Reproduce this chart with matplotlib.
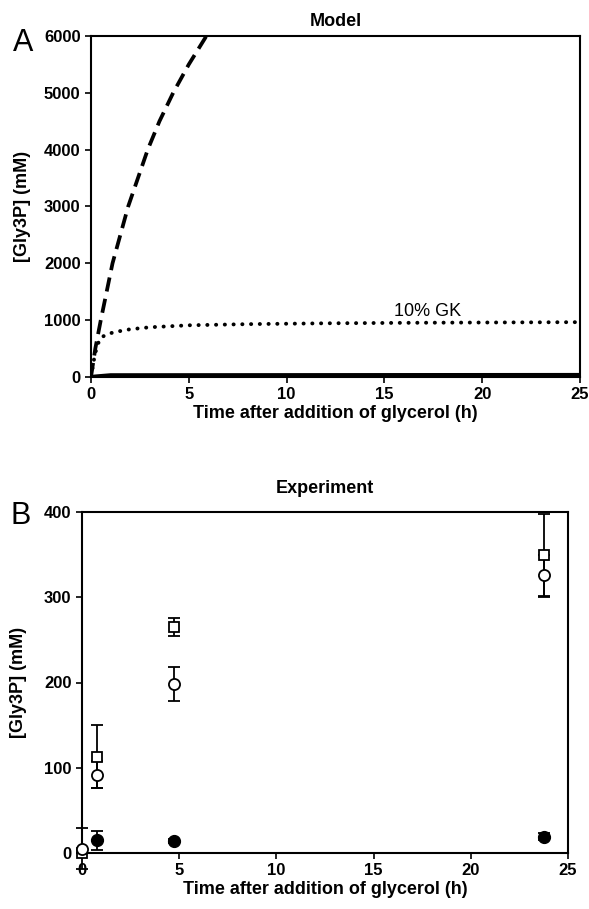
import matplotlib
matplotlib.use('Agg')
import matplotlib.pyplot as plt

plt.rcParams['font.family'] = ['Liberation Sans', 'DejaVu Sans']

# Model curves (panel A)
t_full = [0, 0.22, 0.5, 0.8, 1.1, 1.5, 1.9, 2.4, 2.9, 3.5, 4.2, 5.0, 5.9]
gly_full = [0, 500, 1000, 1500, 2000, 2500, 3000, 3500, 4000, 4500, 5000, 5500, 6000]
t_gk = [0, 0.1, 0.2, 0.35, 0.5, 0.8, 1.2, 2, 3, 5, 8, 12, 17, 25]
gly_gk = [0, 200, 400, 580, 690, 750, 790, 840, 875, 910, 930, 945, 955, 965]
t_wt = [0, 0.3, 1, 25]
gly_wt = [0, 10, 30, 35]

# Experiment (panel B)
t_sq = [0, 0.75, 4.75, 23.75]
sq = [0, 113, 265, 349]
sq_err = [0, 37, 11, 49]
t_oc = [0, 0.75, 4.75, 23.75]
oc = [5, 92, 198, 326]
oc_err = [24, 16, 20, 24]
t_fc = [0.75, 4.75, 23.75]
fc = [15, 14, 19]
fc_err = [11, 2, 4]

fig = plt.figure(figsize=(5.89, 9.09), dpi=100)
ax1 = fig.add_axes([91/589, 1-377/909, 489/589, 341/909])
ax2 = fig.add_axes([82/589, 1-853/909, 486/589, 341/909])

ax1.plot(t_full, gly_full, color='black', lw=2.7, linestyle=(0, (3.8, 2)))
ax1.plot(t_gk, gly_gk, color='black', lw=2.8, linestyle=(0, (0.05, 2.2)),
         dash_capstyle='round')
ax1.plot(t_wt, gly_wt, color='black', lw=3)
ax1.text(17.2, 1160, '10% GK', fontsize=13, ha='center', va='center')
ax1.set_xlim(0, 25)
ax1.set_ylim(0, 6000)
ax1.set_yticks([0, 1000, 2000, 3000, 4000, 5000, 6000])
ax1.set_title('Model', fontsize=13, fontweight='bold', pad=7)
ax1.set_xlabel('Time after addition of glycerol (h)', fontsize=13,
               fontweight='bold', labelpad=2)
ax1.set_ylabel('[Gly3P] (mM)', fontsize=13, fontweight='bold', labelpad=9)

ax2.errorbar(t_sq, sq, yerr=sq_err, fmt='s', mfc='white', mec='black',
             ms=7, mew=1.3, ecolor='black', elinewidth=1.3, capsize=4,
             capthick=1.3, clip_on=False, zorder=3)
ax2.errorbar(t_oc, oc, yerr=oc_err, fmt='o', mfc='white', mec='black',
             ms=8, mew=1.3, ecolor='black', elinewidth=1.3, capsize=4,
             capthick=1.3, clip_on=False, zorder=3)
ax2.errorbar(t_fc, fc, yerr=fc_err, fmt='o', mfc='black', mec='black',
             ms=8.5, ecolor='black', elinewidth=1.3, capsize=4,
             capthick=1.3, clip_on=False, zorder=3)
ax2.set_xlim(0, 25)
ax2.set_ylim(0, 400)
ax2.set_yticks([0, 100, 200, 300, 400])
ax2.set_title('Experiment', fontsize=13, fontweight='bold', pad=14)
ax2.set_xlabel('Time after addition of glycerol (h)', fontsize=13,
               fontweight='bold', labelpad=2)
ax2.set_ylabel('[Gly3P] (mM)', fontsize=13, fontweight='bold', labelpad=12)

for ax in (ax1, ax2):
    for s in ax.spines.values():
        s.set_linewidth(1.5)
    ax.set_xticks([0, 5, 10, 15, 20, 25])
    ax.tick_params(direction='out', length=4, width=1.2, labelsize=12,
                   top=False, right=False)
    for lab in ax.get_xticklabels() + ax.get_yticklabels():
        lab.set_fontweight('bold')

fig.text(23/589, 1-43/909, 'A', fontsize=22, ha='center', va='center')
fig.text(21/589, 1-516/909, 'B', fontsize=22, ha='center', va='center')

fig.savefig('out.png', dpi=100)
